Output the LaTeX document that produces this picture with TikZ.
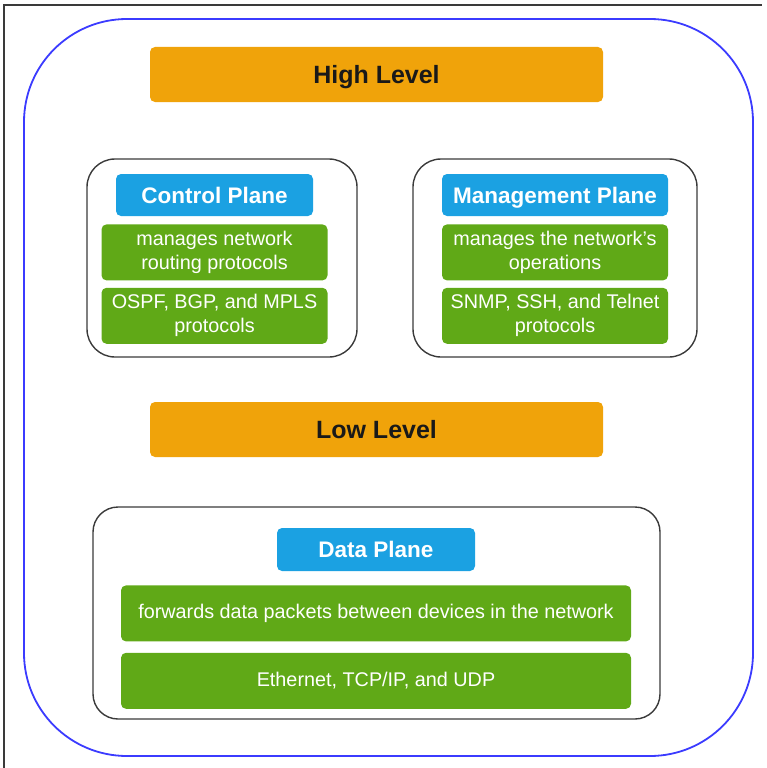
\documentclass[tikz,border=0pt]{standalone}
\usepackage{fontspec}
\setmainfont{Liberation Sans}
\usepackage{xcolor}
\usetikzlibrary{positioning,calc}

\definecolor{levelorange}{HTML}{F0A30A}
\definecolor{planeblue}{HTML}{1BA1E2}
\definecolor{notegreen}{HTML}{60A917}
\definecolor{outerblue}{HTML}{3B3BFF}
\definecolor{boxgray}{HTML}{3A3A3A}

\tikzset{%
  level/.style={fill=levelorange, rounded corners=5pt, inner sep=0pt,
    minimum width=453pt, minimum height=55pt,
    text height=23.25pt, text depth=5.25pt,
    text=black!90, font=\fontsize{25}{30}\selectfont\bfseries},
  plane/.style={fill=planeblue, rounded corners=5pt, inner sep=0pt,
    minimum height=42pt, text=white,
    text height=20.9pt, text depth=4.7pt,
    font=\fontsize{22.5}{27}\selectfont\bfseries},
  note/.style={fill=notegreen, rounded corners=5pt, inner sep=0pt,
    minimum width=226pt, minimum height=56pt, text=white, align=center,
    font=\fontsize{19.8}{24}\selectfont},
  group/.style={draw=boxgray, line width=1.4pt, rounded corners=28pt,
    inner sep=0pt}
}

\begin{document}
\begin{tikzpicture}[x=1pt,y=-1pt]
\useasboundingbox (0,0) rectangle (766,768);

% frame and outer box
\draw[boxgray, line width=1.2pt] (4,768) -- (4,5) -- (762,5);
\draw[outerblue, line width=1.8pt, rounded corners=103pt] (24,19) rectangle (753,756);

% levels
\node[level] (highLvl) at (376.5,74.5) {High Level};
\node[level] (lowLvl) at (376.5,429.5) {Low Level};

% control plane
\node[group, minimum width=270pt, minimum height=198pt] (ctrlGroup) at (222,258) {};
\node[plane, minimum width=197pt] (ctrlHead) at (214.5,195) {Control Plane};
\node[note, below=8pt of ctrlHead] (ctrlRole) {manages network\\routing protocols};
\node[note, below=7pt of ctrlRole] (ctrlProto) {OSPF, BGP, and MPLS\\protocols};

% management plane
\node[group, minimum width=284pt, minimum height=198pt] (mgmtGroup) at (555,258) {};
\node[plane, minimum width=226pt] (mgmtHead) at (555,195) {Management Plane};
\node[note, below=8pt of mgmtHead] (mgmtRole) {manages the network's\\operations};
\node[note, below=7pt of mgmtRole] (mgmtProto) {SNMP, SSH, and Telnet\\protocols};

% data plane
\node[group, minimum width=567pt, minimum height=212pt, rounded corners=25pt] (dataGroup) at (376.5,613) {};
\node[plane, minimum width=198pt, minimum height=43pt] (dataHead) at (376,549.5) {Data Plane};
\node[note, minimum width=510pt, below=14pt of dataHead] (dataRole) {forwards data packets between devices in the network};
\node[note, minimum width=510pt, below=11pt of dataRole] (dataProto) {Ethernet, TCP/IP, and UDP};
\end{tikzpicture}
\end{document}
